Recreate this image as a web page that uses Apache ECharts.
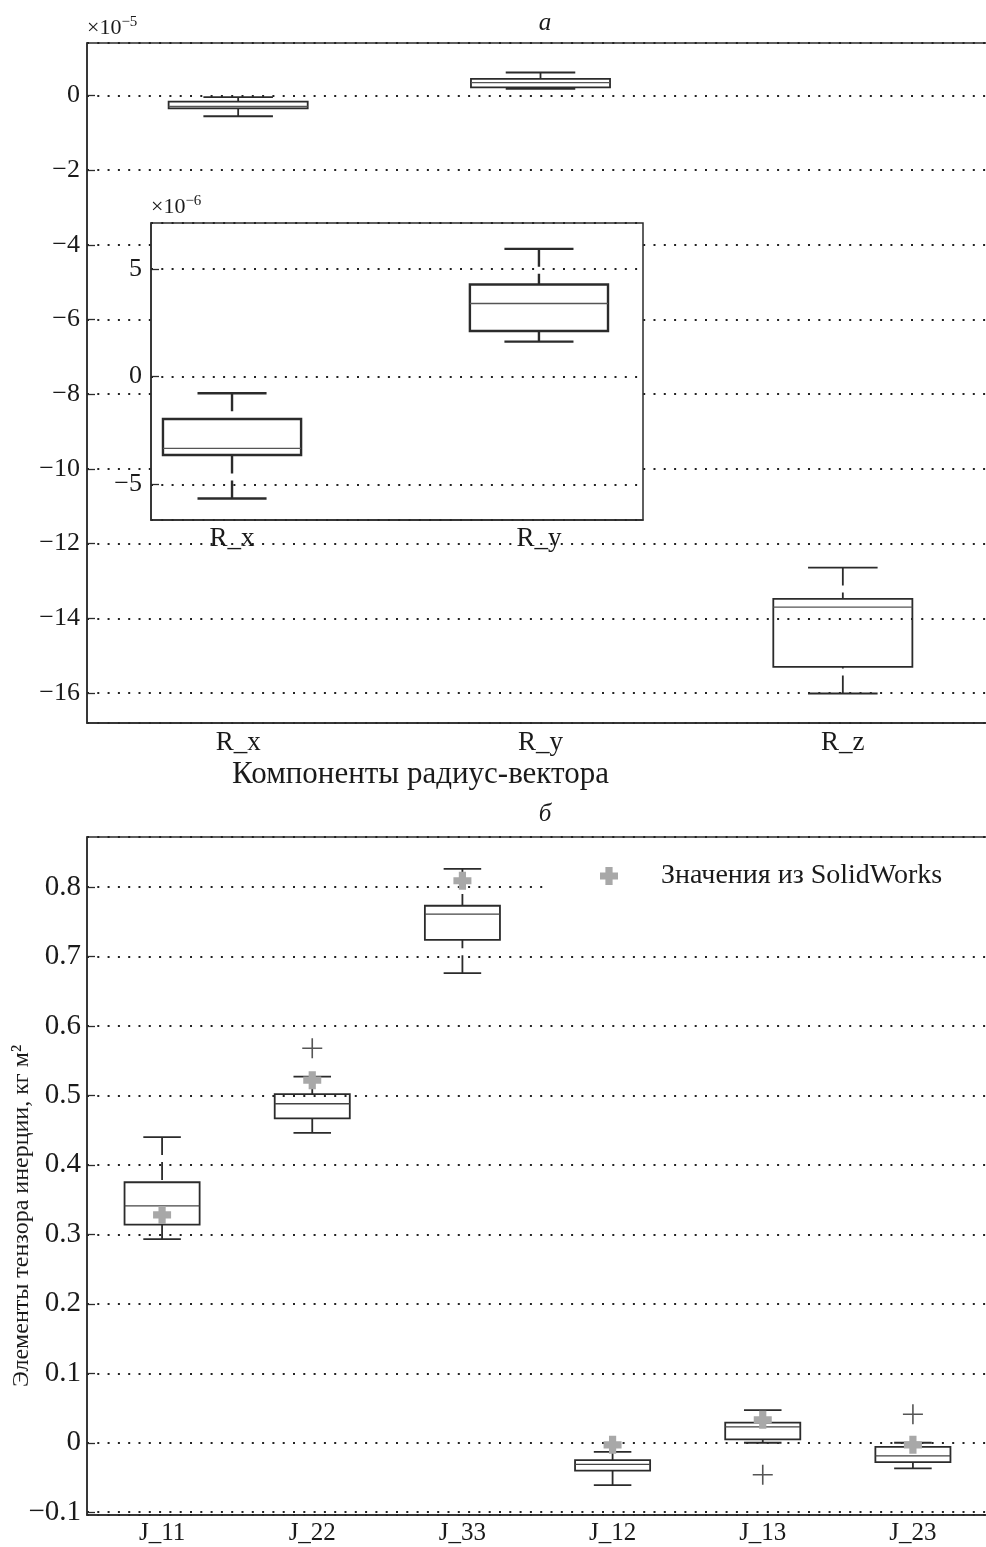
<!DOCTYPE html>
<html>
<head>
<meta charset="utf-8">
<script src="https://cdn.jsdelivr.net/npm/echarts@6/dist/echarts.min.js"></script>
<style>html,body{margin:0;padding:0;background:#fff;}#c{width:986px;height:1547px;}</style>
</head>
<body>
<div id="c"></div>
<script>
// ---------- data ----------
// Top chart (units of 1e-5): [low whisker, q1, median, q3, high whisker]
const topCategories = ['R_x', 'R_y', 'R_z'];
const topRx = [-0.56, -0.35, -0.30, -0.17, -0.05];
const topRy = [0.17, 0.21, 0.34, 0.44, 0.61];
const topRz = [-16.01, -15.30, -13.70, -13.48, -12.64];

// Inset (units of 1e-6)
const insetCategories = ['R_x', 'R_y'];
const insetRx = [-5.66, -3.64, -3.33, -1.97, -0.77];
const insetRy = [1.63, 2.12, 3.40, 4.28, 5.94];

// Bottom chart (kg m^2)
const bottomCategories = ['J_11', 'J_22', 'J_33', 'J_12', 'J_13', 'J_23'];
const J11 = [0.293, 0.314, 0.341, 0.375, 0.440];
const J22 = [0.446, 0.467, 0.488, 0.502, 0.527];
const J33 = [0.676, 0.724, 0.761, 0.773, 0.826];
const J12 = [-0.061, -0.040, -0.031, -0.025, -0.013];
const J13 = [0.000, 0.005, 0.023, 0.029, 0.047];
const J23 = [-0.037, -0.028, -0.019, -0.006, 0.000];
const solidWorks = [0.328, 0.522, 0.809, -0.003, 0.033, -0.003];
const outliers = [[1, 0.568], [4, -0.046], [5, 0.041]];

// ---------- helpers ----------
const FONT = "'Liberation Serif', 'DejaVu Serif', serif";
const INK = '#2b2b2b';
const TXT = '#1a1a1a';

function rows(list, startX) {
  return list.map((b, i) => [i + startX].concat(b));
}

function makeBox(ratio, lw, medColor) {
  return function (params, api) {
    const xv = api.value(0);
    const lo = api.value(1), q1 = api.value(2), md = api.value(3), q3 = api.value(4), hi = api.value(5);
    const bw = api.size([1, 0])[0] * ratio;
    const cw = bw / 2;
    const pLo = api.coord([xv, lo]);
    const pQ1 = api.coord([xv, q1]);
    const pMd = api.coord([xv, md]);
    const pQ3 = api.coord([xv, q3]);
    const pHi = api.coord([xv, hi]);
    const cx = pMd[0];
    return {
      type: 'group',
      children: [
        { type: 'line', shape: { x1: cx, y1: pHi[1], x2: cx, y2: pQ3[1] }, style: { stroke: INK, lineWidth: lw, lineDash: [18, 7] } },
        { type: 'line', shape: { x1: cx, y1: pLo[1], x2: cx, y2: pQ1[1] }, style: { stroke: INK, lineWidth: lw, lineDash: [18, 7] } },
        { type: 'line', shape: { x1: cx - cw / 2, y1: pHi[1], x2: cx + cw / 2, y2: pHi[1] }, style: { stroke: INK, lineWidth: lw } },
        { type: 'line', shape: { x1: cx - cw / 2, y1: pLo[1], x2: cx + cw / 2, y2: pLo[1] }, style: { stroke: INK, lineWidth: lw } },
        { type: 'rect', shape: { x: cx - bw / 2, y: pQ3[1], width: bw, height: pQ1[1] - pQ3[1] }, style: { fill: 'none', stroke: INK, lineWidth: lw } },
        { type: 'line', shape: { x1: cx - bw / 2, y1: pMd[1], x2: cx + bw / 2, y2: pMd[1] }, style: { stroke: medColor, lineWidth: 1.3 } }
      ]
    };
  };
}

function fmtInt(v) {
  if (Math.abs(v) < 1e-9) return '0';
  return (v < 0 ? '\u2212' : '') + Math.abs(Math.round(v));
}
function fmtDec(v) {
  if (Math.abs(v) < 1e-9) return '0';
  return (v < 0 ? '\u2212' : '') + Math.abs(v).toFixed(1);
}

function ts(size) { return { fontFamily: FONT, fontSize: size, color: TXT }; }

const gridLine = { show: true, lineStyle: { color: '#222', width: 2, type: [2, 8.3] } };
const yTick = { show: true, inside: true, length: 8, lineStyle: { color: INK, width: 1.3 } };
const axLine = { show: true, onZero: false, lineStyle: { color: INK, width: 1.5 } };

const option = {
  animation: false,
  backgroundColor: '#fff',
  title: [
    { text: 'а', left: 540, top: 6, textAlign: 'center', textStyle: { fontFamily: FONT, fontSize: 25, fontStyle: 'italic', fontWeight: 'normal', color: TXT } },
    { text: 'б', left: 540, top: 797, textAlign: 'center', textStyle: { fontFamily: FONT, fontSize: 25, fontStyle: 'italic', fontWeight: 'normal', color: TXT } }
  ],
  legend: {
    left: 545, top: 838, orient: 'vertical',
    data: [{ name: 'Значения из SolidWorks', icon: 'path://M3,0H7V3H10V7H7V10H3V7H0V3H3Z' }],
    backgroundColor: '#fff',
    padding: [24, 120, 40, 55],
    itemWidth: 20, itemHeight: 18,
    textStyle: Object.assign({ padding: [0, 0, 0, 37] }, ts(28)),
    selectedMode: false
  },
  grid: [
    { left: 87, top: 43, width: 907, height: 680, outerBoundsMode: 'none', containLabel: false, show: true, borderColor: INK, borderWidth: 1.5, backgroundColor: 'transparent' },
    { left: 151, top: 223, width: 492, height: 297, outerBoundsMode: 'none', containLabel: false, show: true, borderColor: INK, borderWidth: 1.5, backgroundColor: '#fff', z: 5 },
    { left: 87, top: 837, width: 901, height: 678, outerBoundsMode: 'none', containLabel: false, show: true, borderColor: INK, borderWidth: 1.5, backgroundColor: 'transparent' }
  ],
  xAxis: [
    {
      type: 'category', gridIndex: 0, data: topCategories, boundaryGap: true,
      axisLine: axLine, axisTick: { show: false },
      axisLabel: Object.assign({ margin: 6 }, ts(27)),
      name: 'Компоненты радиус-вектора', nameLocation: 'middle', nameGap: 36, nameMoveOverlap: false,
      nameTextStyle: Object.assign({ padding: [0, 240, 0, 0] }, ts(31))
    },
    {
      type: 'value', gridIndex: 1, min: 0.736, max: 2.339, z: 6,
      axisLine: axLine, axisTick: { show: false },
      splitLine: { show: false },
      axisLabel: Object.assign({ margin: 5, customValues: [1, 2], formatter: v => insetCategories[Math.round(v) - 1] || '' }, ts(27))
    },
    {
      type: 'category', gridIndex: 2, data: bottomCategories, boundaryGap: true,
      axisLine: axLine, axisTick: { show: false },
      axisLabel: Object.assign({ margin: 6 }, ts(25))
    }
  ],
  yAxis: [
    {
      type: 'value', gridIndex: 0, min: -16.8, max: 1.4, splitNumber: 9,
      axisLine: axLine, axisTick: yTick,
      splitLine: gridLine,
      axisLabel: Object.assign({ margin: 7, showMinLabel: false, showMaxLabel: false, formatter: fmtInt }, ts(26)),
      name: '{a|×10}{b|\u22125}', nameLocation: 'end', nameGap: 1,
      nameTextStyle: { align: 'left', rich: { a: ts(22), b: Object.assign({ padding: [0, 0, 12, 0] }, ts(15)) } }
    },
    {
      type: 'value', gridIndex: 1, min: -6.66, max: 7.14, splitNumber: 3, z: 6,
      axisLine: axLine, axisTick: yTick,
      splitLine: gridLine,
      axisLabel: Object.assign({ margin: 9, showMinLabel: false, showMaxLabel: false, formatter: fmtInt }, ts(26)),
      name: '{a|×10}{b|\u22126}', nameLocation: 'end', nameGap: 2,
      nameTextStyle: { align: 'left', rich: { a: ts(22), b: Object.assign({ padding: [0, 0, 12, 0] }, ts(15)) } }
    },
    {
      type: 'value', gridIndex: 2, min: -0.104, max: 0.872, splitNumber: 10,
      axisLine: axLine, axisTick: yTick,
      splitLine: gridLine,
      axisLabel: Object.assign({ margin: 6, showMinLabel: false, showMaxLabel: false, formatter: fmtDec }, ts(29)),
      name: 'Элементы тензора инерции, кг м²', nameLocation: 'middle', nameGap: 53, nameRotate: 90, nameMoveOverlap: false,
      nameTextStyle: Object.assign({ padding: [0, 80, 0, 0] }, ts(24))
    }
  ],
  series: [
    {
      type: 'custom', xAxisIndex: 0, yAxisIndex: 0, z: 2,
      renderItem: makeBox(0.46, 1.8, '#555'),
      encode: { x: 0, y: [1, 2, 3, 4, 5] },
      data: rows([topRx, topRy, topRz], 0)
    },
    {
      type: 'custom', xAxisIndex: 1, yAxisIndex: 1, z: 7,
      renderItem: makeBox(0.45, 2.4, '#555'),
      encode: { x: 0, y: [1, 2, 3, 4, 5] },
      data: rows([insetRx, insetRy], 1)
    },
    {
      type: 'custom', xAxisIndex: 2, yAxisIndex: 2, z: 2,
      renderItem: makeBox(0.5, 1.8, '#444'),
      encode: { x: 0, y: [1, 2, 3, 4, 5] },
      data: rows([J11, J22, J33, J12, J13, J23], 0)
    },
    {
      name: 'Значения из SolidWorks', type: 'scatter', xAxisIndex: 2, yAxisIndex: 2, z: 4,
      symbol: 'path://M3,0H7V3H10V7H7V10H3V7H0V3H3Z', symbolSize: 18,
      itemStyle: { color: '#a8a8a8', opacity: 1 },
      data: solidWorks.map((v, i) => [i, v])
    },
    {
      name: 'outliers', type: 'scatter', xAxisIndex: 2, yAxisIndex: 2, z: 4,
      symbol: 'path://M5,0V10M0,5H10', symbolSize: 20,
      itemStyle: { color: 'none', borderColor: INK, borderWidth: 1.6 },
      data: outliers
    }
  ]
};

const chart = echarts.init(document.getElementById('c'), null, { renderer: 'canvas' });
chart.setOption(option);
</script>
</body>
</html>
